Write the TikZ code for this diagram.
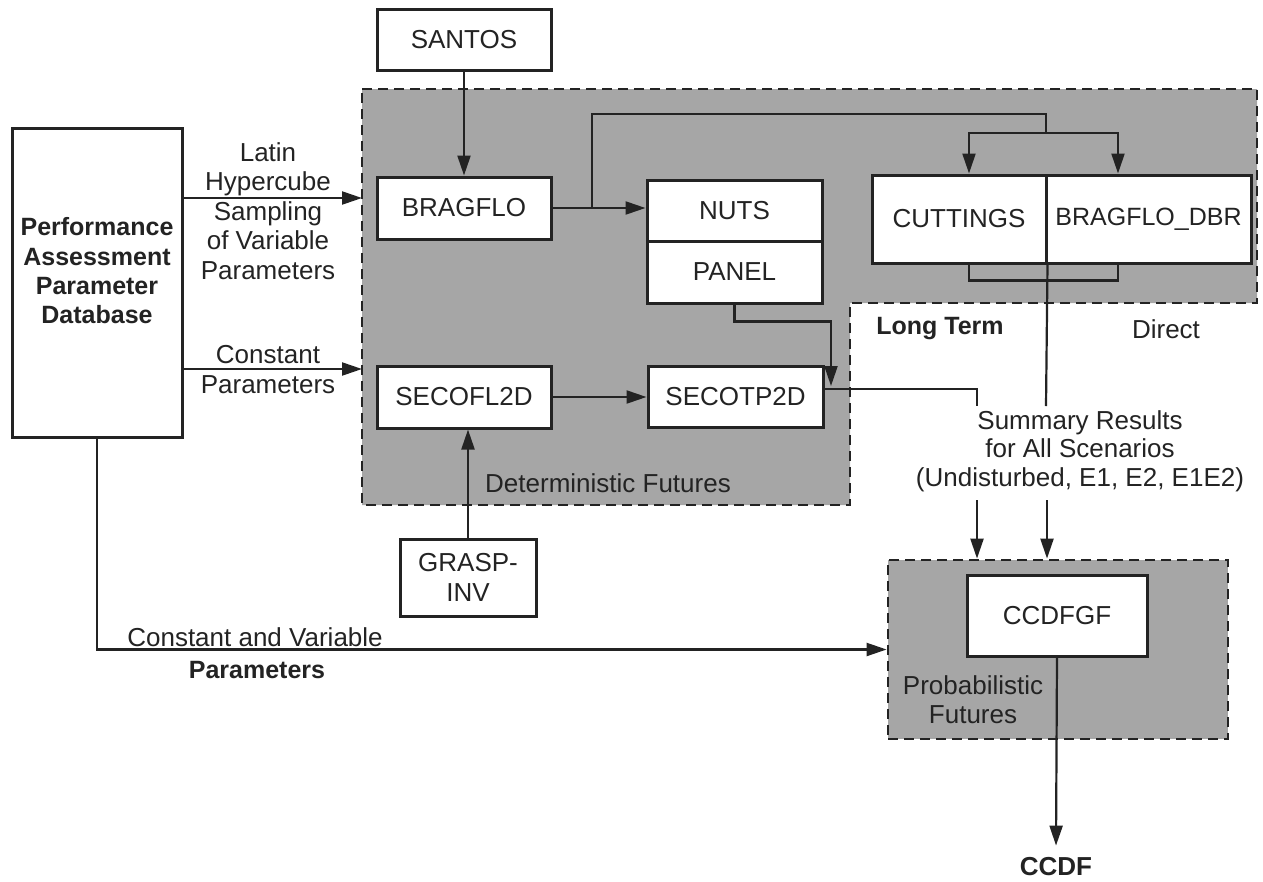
\documentclass[tikz,border=0pt]{standalone}
\usepackage{fontspec}
\setmainfont{Liberation Sans}
\usetikzlibrary{arrows.meta}
\definecolor{ink}{RGB}{35,35,35}
\definecolor{shade}{RGB}{166,166,166}
\begin{document}
\begin{tikzpicture}[x=1pt,y=-1pt,
  every node/.style={text=ink},
  box/.style={draw=ink,line width=3pt,fill=white,inner sep=0pt,font=\fontsize{26}{30}\selectfont,align=center},
  conn/.style={draw=ink,line width=2.2pt},
  arr/.style={conn,-{Triangle[length=20pt,width=13pt]}},
  region/.style={draw=ink,line width=2.8pt,dash pattern=on 10pt off 6pt,fill=shade},
  lbl/.style={inner sep=0pt,align=center,font=\fontsize{26}{29.5}\selectfont},
  blbl/.style={inner sep=0pt,align=center,font=\fontsize{25}{29.3}\selectfont\bfseries},
]
\useasboundingbox (0,0) rectangle (1263,881);

% shaded regions
\path[region] (362,89) -- (1257,89) -- (1257,303) -- (850,303) -- (850,505) -- (362,505) -- cycle;
\node[region,inner sep=0pt,minimum width=340pt,minimum height=179pt] (prob) at (1058,649.5) {};

% boxes
\node[box,minimum width=170pt,minimum height=309pt] (pad) at (97,282.5) {};
\node[blbl] (padtext) at (97,271) {Performance\\Assessment\\Parameter\\Database};
\node[box,minimum width=174pt,minimum height=61pt] (santos) at (464,39.5) {SANTOS};
\node[box,minimum width=174pt,minimum height=62pt] (bragflo) at (464,208) {BRAGFLO};
\node[box,minimum width=175pt,minimum height=61pt] (nuts) at (734.5,210.5) {NUTS};
\node[box,minimum width=175pt,minimum height=62pt] (panel) at (734.5,272) {PANEL};
\node[box,minimum width=174pt,minimum height=88pt] (cuttings) at (959,219) {CUTTINGS};
\node[box,minimum width=205pt,minimum height=88pt,font=\fontsize{25}{30}\selectfont] (dbr) at (1148.5,219) {BRAGFLO\_DBR};
\node[box,minimum width=174pt,minimum height=62pt] (secofl) at (464,397) {SECOFL2D};
\node[box,minimum width=175pt,minimum height=61pt] (secotp) at (735.5,396.5) {SECOTP2D};
\node[box,minimum width=136pt,minimum height=77pt] (grasp) at (468,577.5) {GRASP-\\INV};
\node[box,minimum width=180pt,minimum height=81pt] (ccdfgf) at (1057,615.5) {CCDFGF};

% labels
\node[lbl] (lhs) at (268,211) {Latin\\Hypercube\\Sampling\\of Variable\\Parameters};
\node[lbl] (cp) at (268,369.5) {Constant\\Parameters};
\node[lbl] (cav) at (255,637) {Constant and Variable};
\node[blbl] (cavp) at (257,670) {Parameters};
\node[lbl] (detlbl) at (608,483) {Deterministic Futures};
\node[blbl] (lt) at (940,329) {Long Term};
\node[lbl] (direct) at (1166,329) {Direct};
\node[lbl,font=\fontsize{26}{28.5}\selectfont] (summary) at (1080,451) {Summary Results\\for All Scenarios\\(Undisturbed, E1, E2, E1E2)};
\node[lbl] (problbl) at (973,699.5) {Probabilistic\\Futures};
\node[blbl,font=\fontsize{26}{30}\selectfont\bfseries] (ccdf) at (1056,867) {CCDF};

% coordinates
\coordinate (detA) at (362,198);
\coordinate (detB) at (362,369);
\coordinate (brk) at (592,208);
\coordinate (split) at (1046,133);
\coordinate (sumA) at (1046,406);
\coordinate (sumB) at (977,406);
\coordinate (merge) at (831,386);
\coordinate (s1) at (977,500);
\coordinate (s2) at (1047,500);

% connectors
\draw[arr] (pad.east |- detA) -- (detA);
\draw[arr] (pad.east |- detB) -- (detB);
\draw[arr] (pad.south) |- (prob.west);
\draw[arr] (santos.south) -- (bragflo.north);
\draw[arr] (bragflo.east) -- (nuts.west |- bragflo.east);
\draw[conn] (brk) |- (1046,114) -- (split);
\draw[arr] (split) -| ([xshift=10pt]cuttings.north);
\draw[arr] (split) -| ([xshift=-30.5pt]dbr.north);
\draw[conn] ([xshift=10pt]cuttings.south) -- ++(0,16) -| ([xshift=-30.5pt]dbr.south);
\draw[conn] (cuttings.south east) -- (sumA);
\draw[arr] (panel.south) -- ++(0,17) -| (merge);
\draw[conn] ([yshift=7.5pt]secotp.east) -| (sumB);
\draw[arr] (secofl.east) -- (secotp.west |- secofl.east);
\draw[arr] (grasp.north) -- (grasp.north |- secofl.south);
\draw[arr] (s1) -- (s1 |- prob.north);
\draw[arr] (s2) -- (s2 |- prob.north);
\draw[arr] (ccdfgf.south) -- ([yshift=12pt]ccdf.north);
\end{tikzpicture}
\end{document}
